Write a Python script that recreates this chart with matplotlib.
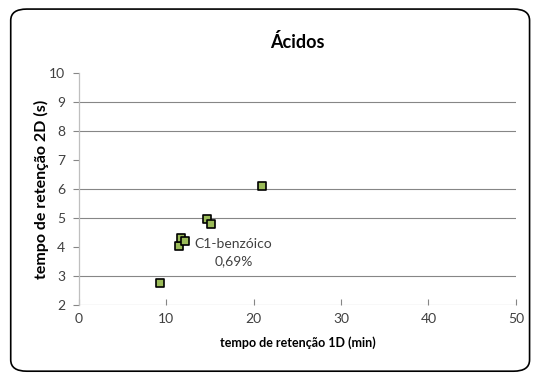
import matplotlib
matplotlib.use("Agg")
import matplotlib.pyplot as plt
from matplotlib.patches import FancyBboxPatch

plt.rcParams['font.family'] = ['Lato', 'DejaVu Sans']

# Retention times of the acid compounds
rt_1d = [9.3, 11.5, 11.7, 12.1, 14.6, 15.1, 20.9]
rt_2d = [2.75, 4.05, 4.3, 4.2, 4.95, 4.8, 6.12]
label_idx = 3
label_text = "C1-benzóico\n0,69%"

x_ticks = [0, 10, 20, 30, 40, 50]
y_ticks = [2, 3, 4, 5, 6, 7, 8, 9, 10]
grid_levels = [3, 5, 6, 8, 9]

fig = plt.figure(figsize=(5.36, 3.78), dpi=100)
fig.patches.append(FancyBboxPatch((0.02, 0.018), 0.968, 0.958, boxstyle="round,pad=0,rounding_size=0.03",
                                  transform=fig.transFigure, fill=False, edgecolor='black', linewidth=1.2))
ax = fig.add_axes([0.1474, 0.193, 0.815, 0.614])
ax.set_xlim(0, 50)
ax.set_ylim(2, 10)
for g in grid_levels:
    ax.axhline(g, color='#868686', linewidth=0.8, zorder=1)
ax.axhline(2, color='#868686', linewidth=0.8, zorder=1)
for s in ['top', 'right', 'bottom']:
    ax.spines[s].set_visible(False)
ax.spines['left'].set_color('#BFBFBF')
ax.spines['left'].set_linewidth(0.9)
ax.set_xticks(x_ticks)
ax.set_yticks(y_ticks)
ax.tick_params(axis='both', length=4, color='#868686', labelsize=10, labelcolor='#404040', pad=6)
ax.tick_params(axis='x', length=4, direction='in')
ax.tick_params(axis='y', direction='out')

ax.scatter(rt_1d, rt_2d, marker='s', s=34, facecolor='#9BBB59', edgecolor='black', linewidth=1.2, zorder=3)
ax.annotate(label_text, (rt_1d[label_idx], rt_2d[label_idx]), xytext=(7, -8), textcoords='offset points',
            ha='left', va='center', fontsize=10, color='#404040', multialignment='center', linespacing=1.5)

ax.set_title("Ácidos", fontsize=13, fontweight='bold', pad=18)
ax.set_xlabel("tempo de retenção 1D (min)", fontsize=9, fontweight='bold', labelpad=8)
ax.set_ylabel("tempo de retenção 2D (s)", fontsize=11.5, fontweight='bold', labelpad=0)

fig.savefig("out.png", dpi=100)
